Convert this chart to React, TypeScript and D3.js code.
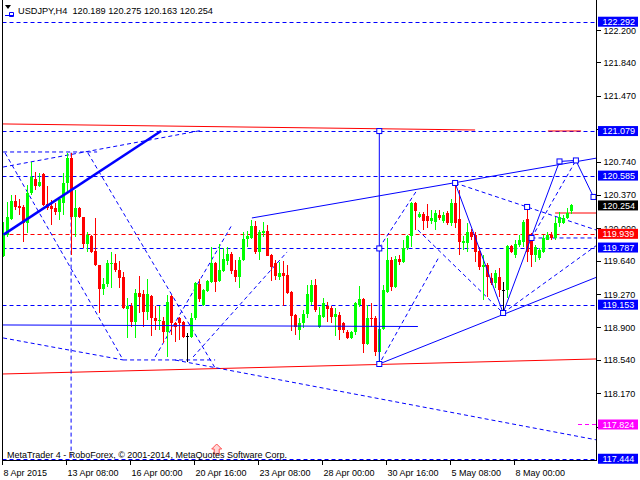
import React from 'react';
import * as d3 from 'd3';

const symbolTitle = 'USDJPY,H4';
const headerValues = ['120.189', '120.275', '120.163', '120.254'];

const opens = [119.69,119.93,120.10,120.30,120.25,120.24,120.06,120.39,120.55,120.47,120.60,120.27,120.25,120.23,120.18,120.28,120.50,120.78,120.13,120.23,120.13,119.83,119.92,119.75,119.59,119.33,119.38,119.61,119.62,119.54,119.46,119.11,119.14,118.96,119.28,119.27,119.07,119.25,119.00,118.97,118.97,118.85,119.25,118.95,119.01,118.96,118.81,118.80,119.00,119.38,119.15,119.31,119.41,119.62,119.42,119.53,119.64,119.72,119.54,119.46,119.65,119.88,119.89,120.03,119.74,119.95,119.97,119.70,119.62,119.46,119.51,119.48,119.29,119.04,118.87,118.95,119.05,119.18,119.37,118.91,119.02,119.14,119.12,119.02,119.04,118.95,118.85,118.78,118.85,119.15,119.22,118.72,119.01,119.01,118.63,118.88,119.29,119.65,119.35,119.66,119.63,119.78,119.92,120.28,120.13,120.16,120.14,120.08,120.07,120.15,120.08,120.17,120.06,120.28,120.10,119.84,119.84,119.96,119.93,119.75,119.57,119.59,119.45,119.39,119.46,119.32,119.32,119.80,119.70,119.82,119.85,120.10,119.90,119.70,119.67,119.74,119.87,119.93,119.89,120.06,120.06,120.12,120.189];
const highs = [120.07,120.29,120.37,120.37,120.33,120.26,120.48,120.74,120.63,120.61,120.61,120.47,120.31,120.28,120.35,120.61,120.84,120.84,120.43,120.24,120.13,119.96,119.93,120.12,119.59,119.45,119.65,119.74,119.72,119.64,119.52,119.23,119.17,119.33,119.47,119.32,119.44,119.26,119.14,119.14,119.02,119.26,119.26,118.96,119.02,118.97,118.84,119.06,119.41,119.44,119.33,119.43,119.79,119.63,119.83,119.78,119.79,119.74,119.65,119.68,119.96,119.97,120.09,120.08,119.98,120.07,120.04,119.72,119.65,119.63,119.64,119.59,119.30,119.05,119.01,119.09,119.37,119.43,119.44,119.13,119.23,119.18,119.14,119.12,119.07,118.96,118.87,118.86,119.18,119.36,119.23,119.15,119.17,119.03,118.96,119.37,119.89,119.68,119.69,119.70,119.87,119.93,120.29,120.29,120.18,120.18,120.27,120.20,120.20,120.20,120.18,120.19,120.33,120.50,120.43,119.92,120.06,119.99,119.96,119.79,119.70,119.62,119.50,119.54,119.56,119.41,119.82,119.82,119.87,119.93,120.09,120.25,119.95,119.82,119.78,119.93,119.96,119.96,120.13,120.18,120.15,120.23,120.275];
const lows = [119.68,119.90,120.09,120.20,120.15,119.85,119.95,120.37,120.43,120.46,120.25,120.20,120.04,120.15,120.09,120.15,120.39,119.70,119.90,120.12,119.78,119.74,119.73,119.58,119.06,119.26,119.35,119.34,119.52,119.34,119.11,118.78,118.91,118.78,119.06,118.91,118.98,118.81,118.87,118.87,118.73,118.57,118.82,118.74,118.76,118.78,118.52,118.78,118.98,119.18,119.14,119.29,119.39,119.29,119.41,119.52,119.59,119.49,119.41,119.34,119.64,119.79,119.88,119.72,119.65,119.90,119.69,119.42,119.43,119.43,119.14,119.27,118.86,118.82,118.76,118.89,119.01,119.15,119.07,118.89,119.01,118.96,118.95,118.81,118.76,118.84,118.77,118.77,118.82,119.13,118.62,118.71,118.91,118.58,118.51,118.87,119.28,119.31,119.34,119.59,119.62,119.76,119.79,119.98,120.12,119.98,120.00,120.05,119.98,120.09,120.06,120.04,120.03,120.00,119.70,119.76,119.74,119.87,119.63,119.54,119.21,119.24,119.37,119.34,119.24,119.06,119.23,119.73,119.67,119.79,119.79,119.63,119.57,119.63,119.65,119.73,119.87,119.87,119.87,120.02,120.05,120.10,120.163];
const closes = [119.94,120.13,120.30,120.24,120.23,120.06,120.39,120.57,120.47,120.51,120.26,120.23,120.21,120.18,120.33,120.50,120.78,120.13,120.23,120.13,119.83,119.93,119.74,119.59,119.33,119.38,119.62,119.62,119.54,119.45,119.12,119.14,118.96,119.28,119.24,119.07,119.27,119.00,118.97,118.98,118.85,119.18,118.95,118.91,118.95,118.80,118.81,119.00,119.39,119.22,119.32,119.42,119.61,119.41,119.54,119.66,119.72,119.53,119.46,119.65,119.88,119.92,120.03,119.74,119.96,119.97,119.69,119.57,119.47,119.51,119.47,119.28,119.03,118.91,118.95,119.05,119.27,119.37,119.09,119.04,119.17,119.11,119.02,119.05,118.87,118.87,118.78,118.85,119.17,119.22,118.72,119.01,118.99,118.63,118.88,119.32,119.65,119.35,119.66,119.63,119.78,119.92,120.28,120.19,120.16,120.08,120.08,120.12,120.17,120.12,120.15,120.06,120.28,120.06,119.85,119.86,119.96,119.90,119.74,119.57,119.59,119.46,119.39,119.50,119.32,119.32,119.80,119.74,119.83,119.87,120.07,119.74,119.70,119.79,119.76,119.89,119.93,119.89,120.06,120.13,120.12,120.17,120.254];
const dojiBars = [46, 125];

const timeTickBars = [0, 16, 32, 48, 64, 80, 96, 112, 128];
const timeTickLabels = ['8 Apr 2015', '13 Apr 08:00', '16 Apr 00:00', '20 Apr 16:00', '23 Apr 08:00', '28 Apr 00:00', '30 Apr 16:00', '5 May 08:00', '8 May 00:00'];
const priceTicks = [122.2, 121.84, 121.47, 120.74, 120.37, 120.0, 119.64, 119.27, 118.9, 118.54, 118.17];
const hiddenTickMarks = [121.1, 117.8];

const blueLevels = [122.292, 121.079, 120.585, 119.787, 119.153, 117.444];
const redLevels = [119.939];
const magentaLevels = [117.824];
const bidPrice = 120.254;

// analysis objects: [barIndex, price] anchor points
const solidBlueLines: [number, number][][] = [
  [[62.1, 120.115], [148.4, 120.78]],
  [[-0.4, 118.928], [103.6, 118.911]],
  [[93.95, 121.079], [93.95, 118.495]],
  [[93.9, 118.495], [148.4, 119.46]],
  [[112.9, 120.503], [124.9, 119.061], [139, 120.742], [143.1, 120.753], [147.5, 120.348]],
];
const thickBlueLine: [number, number][] = [[0, 119.93], [39.4, 121.08]];
const redSolidLines: [number, number][][] = [
  [[-0.4, 121.158], [117.9, 121.091]],
  [[136.1, 121.08], [144.4, 121.08]],
  [[-0.4, 118.384], [148.4, 118.551]],
  [[137.9, 120.17], [148.4, 120.17]],
];
const dashedBlueLines: [number, number][][] = [
  [[-0.1, 120.68], [49.1, 121.083]],
  [[-0.1, 120.847], [23.4, 120.847]],
  [[0.4, 120.836], [29.9, 118.54]],
  [[21.1, 120.836], [52.9, 118.451]],
  [[29.9, 118.54], [52.9, 118.54]],
  [[-0.1, 118.784], [29.9, 118.54]],
  [[42.9, 118.539], [148.4, 117.652]],
  [[16.9, 120.84], [16.9, 117.43]],
  [[37.9, 118.573], [57.1, 120.037]],
  [[47.4, 118.573], [70.9, 119.738]],
  [[93.9, 119.782], [103.4, 120.425]],
  [[94.5, 118.54], [108.7, 119.668]],
  [[103.6, 119.981], [124.9, 119.061]],
  [[112.9, 120.503], [148.4, 119.978]],
  [[124.9, 119.061], [148.4, 119.815]],
  [[132, 119.893], [148.4, 119.893]],
  [[132, 119.893], [143.1, 120.753]],
];
const markerPoints: [number, number][] = [
  [93.95, 121.079], [93.95, 119.777], [93.95, 118.495], [112.9, 120.503], [124.9, 119.061],
  [130.9, 120.237], [132, 119.893], [139, 120.742], [143.1, 120.753], [147.5, 120.348],
];
const arrowBar = 53.3;
const copyright = 'MetaTrader 4 - RoboForex, © 2001-2014, MetaQuotes Software Corp.';

const BLUE = '#0000ff';
const RED = '#ff0000';
const GREEN = '#00ff00';
const MAGENTA = '#ff00ff';
const FONT = 'Liberation Sans, Arial, sans-serif';

export default function App() {
  const xs = d3.scaleLinear().domain([0, 1]).range([3, 7]);
  const ys = d3.scaleLinear().domain([118.17, 122.2]).range([393.3, 30]);
  const cx = (i: number) => xs(i) + 0.5;
  const line = d3.line<[number, number]>().x(d => cx(d[0])).y(d => ys(d[1]));
  const plotL = 2.5, plotR = 596.5, plotB = 460.5;
  const dash = '4,3';

  const candles = opens.map((o, i) => {
    const c = closes[i];
    const doji = dojiBars.includes(i);
    const col = doji ? '#000' : c >= o ? GREEN : RED;
    const yh = Math.round(ys(highs[i]));
    const yl = Math.round(ys(lows[i]));
    const yo = Math.round(ys(o));
    const yc = Math.round(ys(c));
    const top = Math.min(yo, yc);
    const h = Math.max(1, Math.abs(yo - yc));
    return (
      <g key={i} fill={col}>
        <rect x={xs(i)} y={yh} width={1} height={Math.max(1, yl - yh)} />
        <rect x={xs(i) - 1} y={top} width={3} height={h} />
      </g>
    );
  });

  const levelLabel = (v: number, bg: string, key: string) => (
    <g key={key}>
      <rect x={598} y={ys(v) - 5} width={40} height={10} fill={bg} />
      <text x={602.5} y={ys(v) + 3.3} fill="#fff" fontSize={9} fontFamily={FONT}>{v.toFixed(3)}</text>
    </g>
  );

  const ax = cx(arrowBar);
  const redTop = ys(redLevels[0]) - 5;

  return (
    <svg width={640} height={480} style={{ position: 'absolute', left: 0, top: 0, background: '#fff' }}>
      <defs>
        <clipPath id="plot">
          <rect x={plotL} y={0} width={plotR - plotL} height={plotB} />
        </clipPath>
        <clipPath id="axisTop">
          <rect x={597} y={0} width={43} height={redTop} />
        </clipPath>
      </defs>
      <rect x={0} y={0} width={640} height={480} fill="#fff" />
      <g clipPath="url(#plot)">
        {blueLevels.map(v => (
          <line key={'bl' + v} x1={plotL} x2={plotR} y1={Math.round(ys(v)) + 0.5} y2={Math.round(ys(v)) + 0.5} stroke={BLUE} strokeDasharray={dash} />
        ))}
        {redLevels.map(v => (
          <line key={'rl' + v} x1={plotL} x2={plotR} y1={Math.round(ys(v)) + 0.5} y2={Math.round(ys(v)) + 0.5} stroke={RED} strokeDasharray={dash} />
        ))}
        {magentaLevels.map(v => (
          <line key={'ml' + v} x1={578} x2={plotR} y1={Math.round(ys(v)) + 0.5} y2={Math.round(ys(v)) + 0.5} stroke={MAGENTA} strokeDasharray={dash} />
        ))}
        {redSolidLines.map((pts, k) => (
          <path key={'rs' + k} d={line(pts) || ''} stroke={RED} fill="none" strokeWidth={1} />
        ))}
        {dashedBlueLines.map((pts, k) => (
          <path key={'db' + k} d={line(pts) || ''} stroke={BLUE} fill="none" strokeWidth={1} strokeDasharray={dash} />
        ))}
        <g shapeRendering="crispEdges">{candles}</g>
        {solidBlueLines.map((pts, k) => (
          <path key={'sb' + k} d={line(pts) || ''} stroke={BLUE} fill="none" strokeWidth={1} />
        ))}
        <path d={line(thickBlueLine) || ''} stroke={BLUE} fill="none" strokeWidth={2.5} />
        {markerPoints.map((p, k) => (
          <rect key={'mk' + k} x={cx(p[0]) - 2.5} y={ys(p[1]) - 2.5} width={5} height={5} fill="#fff" stroke={BLUE} strokeWidth={1} />
        ))}
        <path d={`M${ax - 5},449 L${ax},444 L${ax + 5},449 L${ax + 2.5},449 L${ax + 2.5},454 L${ax - 2.5},454 L${ax - 2.5},449 Z`} fill="#ffd8d8" stroke="#ff5050" strokeWidth={1} />
        <text x={7} y={458} fontSize={9} fontFamily={FONT} fill="#000">{copyright}</text>
      </g>
      <g shapeRendering="crispEdges" stroke="#000">
        <line x1={plotL} x2={plotL} y1={0} y2={plotB} />
        <line x1={plotR} x2={plotR} y1={0} y2={plotB} />
        <line x1={plotL} x2={plotR} y1={plotB} y2={plotB} />
        {priceTicks.concat(hiddenTickMarks).map(v => (
          <line key={'pt' + v} x1={plotR} x2={601} y1={Math.round(ys(v)) + 0.5} y2={Math.round(ys(v)) + 0.5} />
        ))}
        {timeTickBars.map(b => (
          <line key={'tt' + b} x1={xs(b) - 0.5} x2={xs(b) - 0.5} y1={plotB} y2={465} />
        ))}
      </g>
      {priceTicks.map(v => (
        <text key={'ptl' + v} x={603.5} y={ys(v) + 3.5} fontSize={9} fontFamily={FONT} fill="#000"
          clipPath={v === 120.0 ? 'url(#axisTop)' : undefined}>{v.toFixed(3)}</text>
      ))}
      {timeTickBars.map((b, k) => (
        <text key={'ttl' + b} x={xs(b) + 0.5} y={476} fontSize={9} fontFamily={FONT} fill="#000">{timeTickLabels[k]}</text>
      ))}
      {blueLevels.map(v => levelLabel(v, BLUE, 'lb' + v))}
      {redLevels.map(v => levelLabel(v, RED, 'lr' + v))}
      {magentaLevels.map(v => levelLabel(v, MAGENTA, 'lm' + v))}
      {levelLabel(bidPrice, '#000', 'bid')}
      <path d="M5,5 L11,5 L8,9 Z" fill="#000" />
      <path d="M5,15.5 L13,15.5 M9.5,12.5 h4 v4 h-4 Z" stroke={BLUE} fill="none" />
      <text x={18} y={14} fontSize={9.2} fontFamily={FONT} fill="#000" style={{ whiteSpace: 'pre' }}>
        {symbolTitle + '  ' + headerValues.join(' ')}
      </text>
    </svg>
  );
}
